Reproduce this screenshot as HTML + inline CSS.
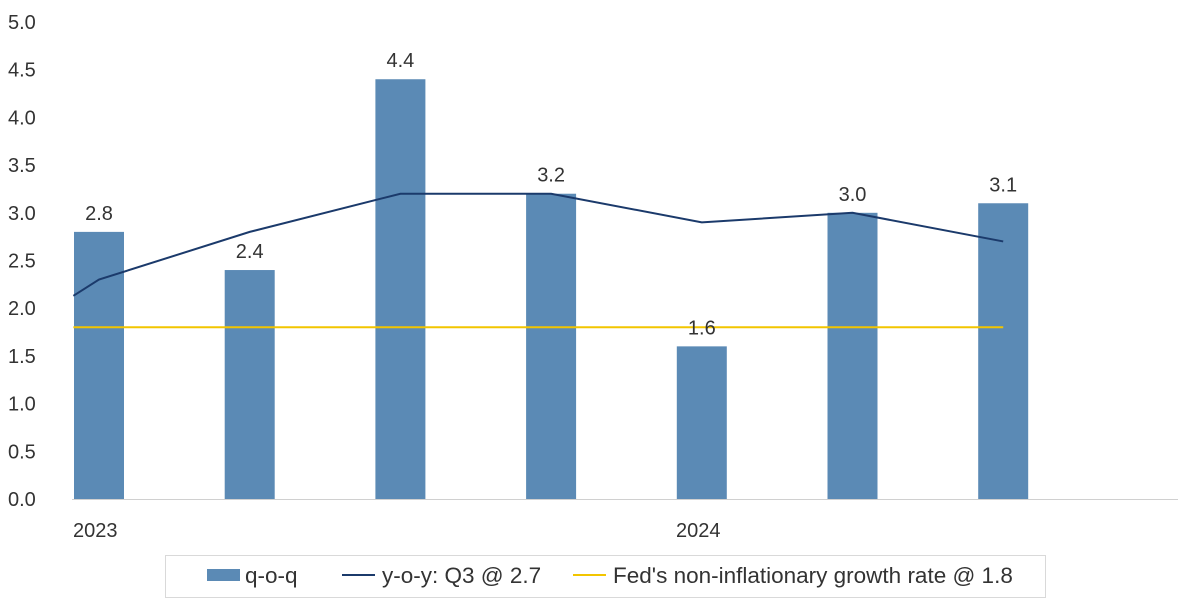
<!DOCTYPE html>
<html><head><meta charset="utf-8"><style>
body{margin:0;background:#fff;}
svg{display:block;font-family:"Liberation Sans",sans-serif;}
</style></head><body>
<svg id="chart" width="1200" height="600">
<g id="yaxis"></g>
<line x1="72" y1="499.5" x2="1178" y2="499.5" stroke="#d0d0d0" stroke-width="1"/>
<g id="bars"></g>
<g id="lines"></g>
<g id="labels"></g>
<text x="73" y="537" font-size="20" fill="#333">2023</text>
<text x="676" y="537" font-size="20" fill="#333">2024</text>
<g>
<rect x="165.5" y="555.5" width="880" height="42" fill="#fff" stroke="#d9d9d9"/>
<rect x="207" y="569" width="33" height="12" fill="#5b8ab5"/>
<text x="245" y="583" font-size="22.5" fill="#333">q-o-q</text>
<line x1="342" y1="575" x2="375" y2="575" stroke="#1b3a6b" stroke-width="2"/>
<text x="382" y="583" font-size="22.5" fill="#333">y-o-y: Q3 @ 2.7</text>
<line x1="573" y1="575" x2="606" y2="575" stroke="#f2c500" stroke-width="2"/>
<text x="613" y="583" font-size="22.5" fill="#333">Fed's non-inflationary growth rate @ 1.8</text>
</g>
</svg>
<script>
const categories = ["2023Q1","2023Q2","2023Q3","2023Q4","2024Q1","2024Q2","2024Q3"];
const qoq = [2.8, 2.4, 4.4, 3.2, 1.6, 3.0, 3.1];
const yoyPos = [-0.17, 0, 1, 2, 3, 4, 5, 6];
const yoy = [2.13, 2.3, 2.8, 3.2, 3.2, 2.9, 3.0, 2.7];
const fedRate = 1.8;
const yTicks = [0,0.5,1,1.5,2,2.5,3,3.5,4,4.5,5];

const NS="http://www.w3.org/2000/svg";
const y = v => 499 - v*95.4;
const x = i => 99 + i*150.7;
function mk(tag, attrs, parent){const e=document.createElementNS(NS,tag);for(const k in attrs)e.setAttribute(k,attrs[k]);parent.appendChild(e);return e;}
const ya=document.getElementById('yaxis');
yTicks.forEach(t=>{const e=mk('text',{x:8,y:y(t)+7,'font-size':20,fill:'#333'},ya);e.textContent=t.toFixed(1);

});
const bg=document.getElementById('bars'), lg=document.getElementById('labels');
qoq.forEach((v,i)=>{const r=mk('rect',{x:x(i)-25,y:y(v),width:50,height:y(0)-y(v),fill:'#5b8ab5'},bg);


const t=mk('text',{x:x(i),y:y(v)-12,'font-size':20,fill:'#333','text-anchor':'middle'},lg);t.textContent=v.toFixed(1);

});
const ln=document.getElementById('lines');
const f=mk('line',{x1:x(-0.17),x2:x(6),y1:y(fedRate),y2:y(fedRate),stroke:'#f2c500','stroke-width':2},ln);


const p=mk('polyline',{points:yoy.map((v,i)=>x(yoyPos[i])+','+y(v)).join(' '),fill:'none',stroke:'#1b3a6b','stroke-width':2},ln);


</script>
</body></html>
